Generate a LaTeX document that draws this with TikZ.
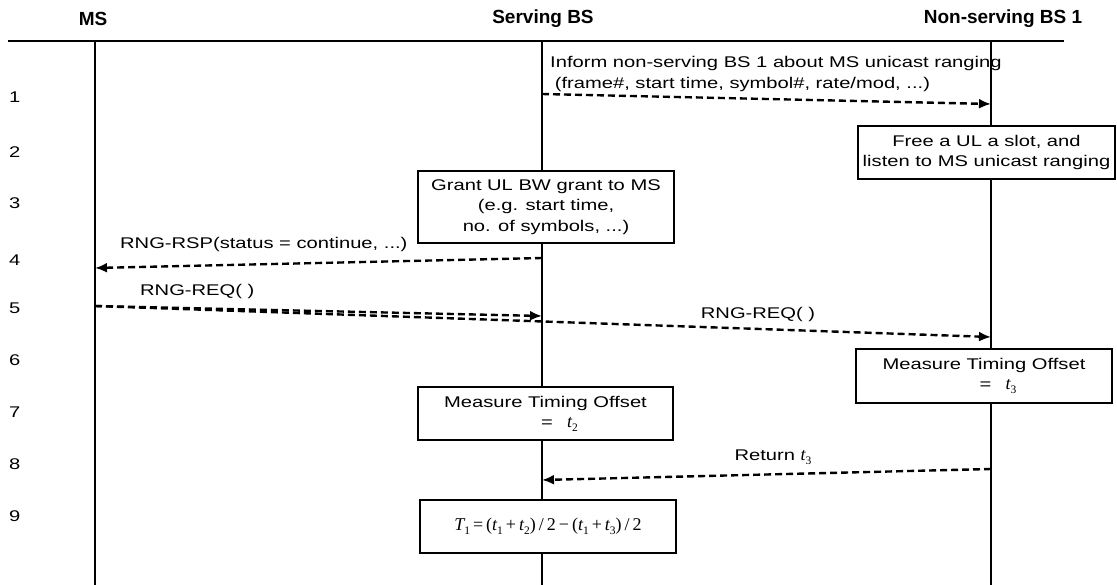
\documentclass[tikz,border=0pt]{standalone}
\usepackage{fontspec}
\usetikzlibrary{arrows.meta}
\newfontfamily\bodyfont{Liberation Sans}[FakeStretch=1.3]
\newfontfamily\headfont{Liberation Sans}
\newfontfamily\tnr{Liberation Serif}
\newcommand\tsub[2]{{\tnr\itshape\fontsize{18}{20}\selectfont #1}\raisebox{-0.45ex}{\tnr\fontsize{11.5}{12}\selectfont #2}}
\tikzset{
  body/.style={font=\bodyfont\fontsize{15.5}{20.5}\selectfont, inner sep=0pt},
  head/.style={font=\headfont\bfseries\fontsize{19}{21}\selectfont, inner sep=0pt},
  lifeline/.style={line width=1.6pt},
  box/.style={draw, line width=1.6pt, fill=white, body, align=center},
  msg/.style={line width=2.4pt, dash pattern=on 7pt off 4pt, -{Latex[length=12pt,width=10pt]}},
  num/.style={body, anchor=west}
}
\begin{document}
\begin{tikzpicture}[x=1pt,y=-1pt]
\useasboundingbox (0,0) rectangle (1117,585);
% headers
\node[head] (hms) at (93,19) {MS};
\node[head] (hsb) at (543,19) {Serving BS};
\node[head] (hnb) at (1003,19) {Non-serving BS 1};
\coordinate (topL) at (8,41);
\coordinate (topR) at (1064,41);
\draw[line width=1.6pt] (topL) -- (topR);
% lifelines
\coordinate (msT) at (95,41);  \coordinate (msB) at (95,585);
\coordinate (sbT) at (542,41); \coordinate (sbB) at (542,585);
\coordinate (nbT) at (991,41); \coordinate (nbB) at (991,585);
\draw[lifeline] (msT) -- (msB);
\draw[lifeline] (sbT) -- (sbB);
\draw[lifeline] (nbT) -- (nbB);
% row numbers
\node[num] (n1) at (9,97) {1};
\node[num] (n2) at (9,152) {2};
\node[num] (n3) at (9,203) {3};
\node[num] (n4) at (9,260) {4};
\node[num] (n5) at (9,308) {5};
\node[num] (n6) at (9,360) {6};
\node[num] (n7) at (9,412) {7};
\node[num] (n8) at (9,464) {8};
\node[num] (n9) at (9,516) {9};
% message 1
\coordinate (m1s) at (542,94);
\coordinate (m1e) at (991,104);
\draw[msg] (m1s) -- (m1e);
\node[body, anchor=west, align=left] (l1) at (550,74) {Inform non-serving BS 1 about MS unicast ranging\\\hspace*{0.3em}(frame\#, start time, symbol\#, rate/mod, ...)};
% box 2
\node[box, minimum width=257pt, minimum height=53pt] (b2) at (986.5,152.5) {Free a UL a slot, and\\listen to MS unicast ranging};
% box 3
\node[box, minimum width=256pt, minimum height=72pt] (b3) at (546,207) {Grant UL BW grant to MS\\(e.g. start time,\\no. of symbols, ...)};
% message 4
\coordinate (m4s) at (542,258);
\coordinate (m4e) at (95,268);
\draw[msg] (m4s) -- (m4e);
\node[body, anchor=west] (l4) at (120,244) {RNG-RSP(status = continue, ...)};
% message 5
\coordinate (m5s) at (95,306);
\coordinate (m5a) at (542,316);
\coordinate (m5b) at (991,337);
\draw[msg] (m5s) -- (m5b);
\draw[msg] (m5s) -- (m5a);
\node[body, anchor=west] (l5a) at (140,291) {RNG-REQ( )};
\node[body] (l5b) at (758,314) {RNG-REQ( )};
% box 6
\node[box, minimum width=256pt, minimum height=54pt] (b6) at (984,376) {Measure Timing Offset\\\hspace*{28pt}=\hspace{14pt}\tsub{t}{3}};
% box 7
\node[box, minimum width=255pt, minimum height=53pt] (b7) at (545.5,413.5) {Measure Timing Offset\\\hspace*{28pt}=\hspace{14pt}\tsub{t}{2}};
% message 8
\coordinate (m8s) at (991,469);
\coordinate (m8e) at (542,480);
\draw[msg] (m8s) -- (m8e);
\node[body] (l8) at (773,457) {Return \tsub{t}{3}};
% box 9
\node[box, minimum width=256pt, minimum height=53pt] (b9) at (548,526.5) {{\tnr\fontsize{18}{20}\selectfont \tsub{T}{1}\,=\,(\tsub{t}{1}\,+\,\tsub{t}{2})\,/\,2\,−\,(\tsub{t}{1}\,+\,\tsub{t}{3})\,/\,2}};
\end{tikzpicture}
\end{document}
